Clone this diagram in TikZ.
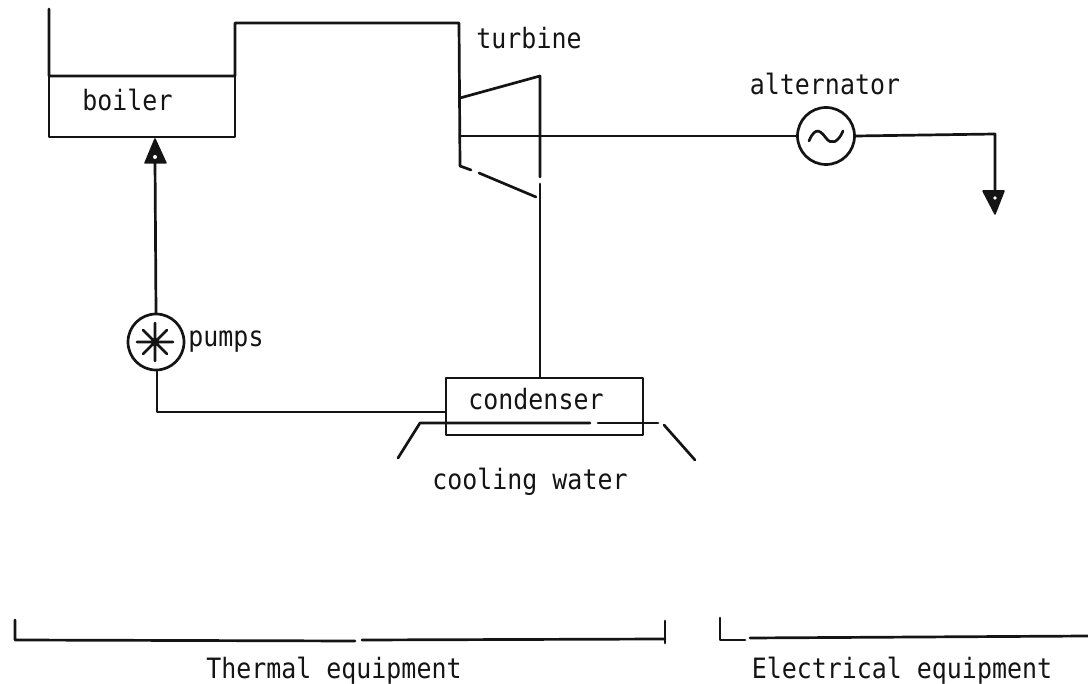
\documentclass[tikz,border=0pt]{standalone}
\usepackage{fontspec}
\setmainfont[FakeStretch=0.89]{DejaVu Sans Mono}
\tikzset{
  x=1pt,y=-1pt,
  wire/.style={draw=black!92,line width=2.7pt,line cap=round,line join=round},
  lbl/.style={font=\fontsize{28}{32}\selectfont,text=black!92,inner sep=0pt,anchor=base},
  tip/.style={fill=black!92,draw=black!92,line width=1.5pt,line join=round},
}
\begin{document}
\begin{tikzpicture}
\useasboundingbox (0,0) rectangle (1088,684);
\node[wire,draw,minimum width=186pt,minimum height=61pt,inner sep=0pt] (boiler) at (142,106.5) {};
\node[wire,draw,minimum width=197pt,minimum height=57pt,inner sep=0pt] (condenser) at (544.5,406.5) {};
\node[wire,draw,circle,minimum size=56pt,inner sep=0pt] (pump) at (156,342) {};
\node[wire,draw,circle,minimum size=57pt,inner sep=0pt] (alt) at (826,136) {};
\node[lbl] (tboiler) at (127.5,111) {boiler};
\node[lbl] (tturbine) at (529,49) {turbine};
\node[lbl] (talt) at (825,95) {alternator};
\node[lbl] (tpumps) at (226,347) {pumps};
\node[lbl] (tcond) at (536,410) {condenser};
\node[lbl] (tcool) at (530,490) {cooling water};
\node[lbl] (tth) at (334,678) {Thermal equipment};
\node[lbl] (tel) at (902,678) {Electrical equipment};
\coordinate (bl) at (49,9);
\coordinate (bl2) at (49,76);
\coordinate (br) at (235,76);
\coordinate (tl) at (459,23);
\coordinate (tb1) at (460,98);
\coordinate (tb2) at (540,76);
\coordinate (tb3) at (460,166);
\coordinate (tg1) at (471,170);
\coordinate (tg2) at (479,173);
\coordinate (tb4) at (536,197);
\coordinate (vg1) at (540,177);
\coordinate (vg2) at (540,184);
\coordinate (sh) at (460,136);
\coordinate (lo) at (995,134);
\coordinate (lotip) at (995,190);
\draw[wire] (bl) -- (bl2) -- (br) |- (tl) -- (tb3);
\draw[wire] (tb1) -- (tb2) -- (vg1);
\draw[wire] (vg2) -- (condenser.north -| tb2);
\draw[wire] (tb3) -- (tg1);
\draw[wire] (tg2) -- (tb4);
\draw[wire] (sh) -- (alt.west);
\draw[wire] (alt.east) -- (lo) -- (lotip);
\draw[tip] (983,191) -- (1004,191) -- (995,214) -- cycle;
\fill[white] (995,198) circle (1.8pt);
\draw[wire] (pump.north) -- (155,160);
\draw[tip] (155,139) -- (166,163) -- (145,163) -- cycle;
\fill[white] (155,157) circle (2pt);
\coordinate (pb) at (157,370);
\draw[wire] (pb) |- (condenser.west |- 0,412);
\coordinate (cw1) at (398,458);
\coordinate (cw2) at (420,423);
\coordinate (cw3) at (590,423);
\coordinate (cw4) at (598,423);
\coordinate (cw5) at (658,423);
\coordinate (cw6) at (664,425);
\coordinate (cw7) at (695,460);
\draw[wire] (cw1) -- (cw2) -- (cw3);
\draw[wire] (cw4) -- (cw5);
\draw[wire] (cw6) -- (cw7);
% pump star
\draw[wire,line width=2.6pt] (155,323) -- (155,361) (137,342) -- (173,342) (143,330) -- (167,354) (143,354) -- (167,330);
% sine
\draw[wire] (809,141) .. controls (816,124) and (822,133) .. (826,138) .. controls (831,145) and (838,143) .. (843,131);
% brackets
\coordinate (a1) at (15,620);\coordinate (a2) at (15,640);\coordinate (a3) at (355,641);
\coordinate (a4) at (362,640);\coordinate (a5) at (665,639);\coordinate (a6) at (665,621);\coordinate (a7) at (665,643);
\draw[wire] (a1) -- (a2) -- (a3);
\draw[wire] (a4) -- (a5);
\draw[wire] (a6) -- (a7);
\coordinate (c1) at (720,618);\coordinate (c2) at (720,640);\coordinate (c3) at (745,640);
\coordinate (c4) at (750,638);\coordinate (c5) at (1088,636);
\draw[wire] (c1) -- (c2) -- (c3);
\draw[wire] (c4) -- (c5);
\end{tikzpicture}
\end{document}
